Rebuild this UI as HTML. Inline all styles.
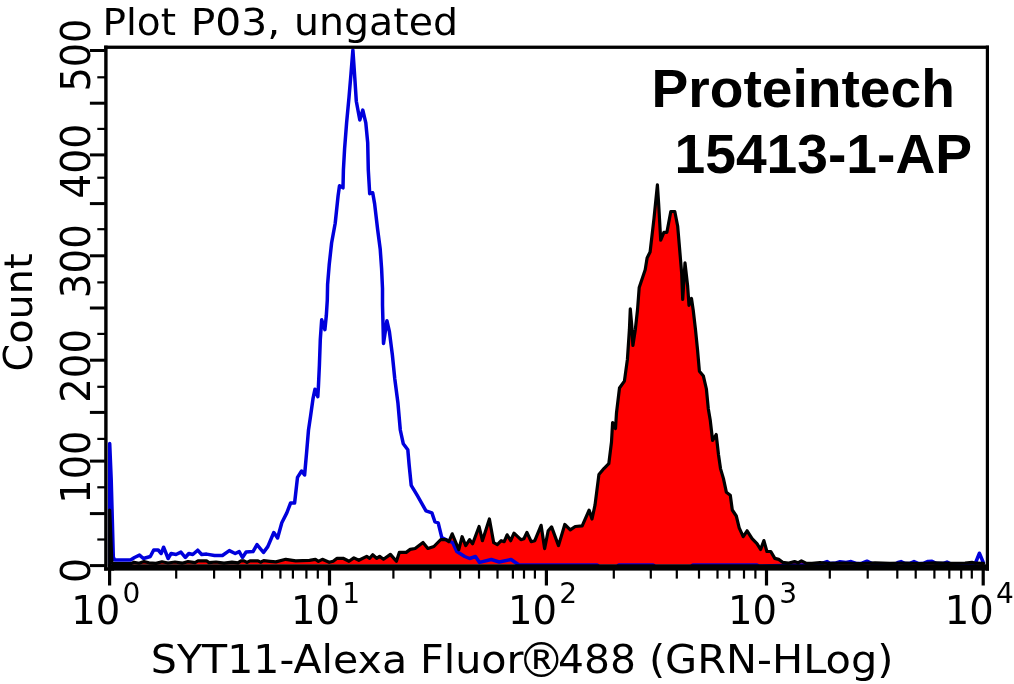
<!DOCTYPE html>
<html lang="en"><head><meta charset="utf-8"><title>Plot P03, ungated</title>
<style>html,body{margin:0;padding:0;background:#fff;overflow:hidden}svg{display:block}.v{font-family:"DejaVu Sans","Liberation Sans",sans-serif;fill:#000}.b{font-family:"Liberation Sans","DejaVu Sans",sans-serif;font-weight:bold;fill:#000}</style></head><body>
<svg width="1014" height="684" viewBox="0 0 1014 684">
<rect width="1014" height="684" fill="#fff"/>
<polygon points="109.7,566.0 109.7,510.0 111.9,562.5 113.0,563.6 131.0,563.6 134.0,562.2 139.0,563.2 144.0,561.6 149.0,562.8 156.0,563.4 162.0,561.8 168.0,563.0 175.0,562.0 182.0,563.2 188.0,561.6 195.0,562.6 198.0,560.8 206.5,560.8 209.0,562.6 216.0,562.0 224.0,563.2 232.0,562.2 238.0,562.8 241.0,560.8 244.0,560.8 247.0,562.4 250.0,560.8 258.0,560.8 260.5,562.2 263.7,560.6 270.0,561.3 275.9,561.9 285.8,559.3 295.7,560.9 309.5,560.3 315.4,559.3 318.4,561.3 322.3,559.3 329.2,562.3 333.2,561.3 337.1,558.3 343.1,558.3 349.0,561.3 353.9,557.9 358.8,560.3 366.7,556.4 369.7,558.3 372.7,554.8 376.6,558.3 379.6,556.4 383.5,559.3 390.4,554.4 396.4,561.3 399.3,552.4 406.2,552.4 410.2,549.4 415.1,548.5 423.0,542.5 427.9,548.5 433.9,546.5 440.8,539.5 445.9,539.7 448.9,541.7 452.2,533.8 458.8,549.6 462.1,536.7 465.7,545.6 469.6,539.7 472.6,543.7 479.1,526.5 482.4,540.7 489.4,519.0 493.7,542.7 497.3,544.6 501.2,540.7 504.2,541.7 507.1,534.8 510.7,540.7 514.0,533.2 520.9,539.7 523.9,538.7 526.9,532.4 531.2,541.7 534.8,540.7 541.1,525.3 544.6,548.6 548.2,530.8 551.6,526.9 558.5,545.6 564.8,524.5 570.3,529.8 575.2,526.5 582.2,525.9 589.1,510.1 592.0,519.0 595.0,505.2 598.9,474.6 603.9,468.6 608.8,463.7 611.5,442.0 612.6,422.5 615.5,428.5 616.5,412.7 619.5,388.0 624.4,381.1 627.4,359.4 629.4,329.7 630.3,308.9 631.7,324.8 632.9,345.5 635.3,329.7 637.5,310.0 639.2,287.5 645.2,269.8 647.1,257.9 650.1,252.0 654.0,218.4 657.4,184.9 658.7,204.6 660.7,240.2 663.9,232.3 666.9,232.3 670.8,211.5 674.8,211.5 677.7,226.3 679.7,250.0 681.7,273.7 682.7,299.4 685.0,262.9 687.6,285.6 689.0,305.3 691.5,298.4 693.2,310.0 695.5,329.7 697.5,349.5 699.4,371.2 703.4,376.1 706.4,389.0 708.3,408.7 710.3,420.6 712.6,440.5 716.2,434.5 718.5,454.7 720.5,468.6 723.4,478.4 726.4,492.3 730.3,495.2 732.3,510.0 736.3,516.0 739.2,527.8 743.2,536.7 747.1,530.8 752.1,538.7 757.0,543.6 760.6,549.5 763.9,540.6 766.9,551.5 770.8,551.5 774.8,558.4 778.7,559.4 782.7,562.3 788.0,563.2 794.5,561.6 798.0,562.8 801.4,560.8 806.0,563.2 812.0,563.4 820.0,562.6 828.0,563.4 845.0,563.0 860.0,563.5 875.0,562.8 890.0,563.4 905.0,563.0 920.0,563.5 935.0,562.9 950.0,563.4 965.0,563.0 972.0,562.4 976.0,563.2 983.5,563.4 983.5,564.5 109.7,564.5" fill="#ff0000"/>
<polyline points="109.7,566.0 109.7,443.5 111.2,479.5 112.3,519.0 113.3,557.0 114.5,560.0 130.5,560.0 134.5,557.5 139.5,555.1 143.4,558.5 150.3,556.5 153.7,550.0 158.2,550.0 161.2,553.5 163.6,547.2 168.1,558.5 171.1,553.5 176.0,554.5 180.9,552.1 185.3,557.5 188.8,553.5 192.8,554.5 197.7,550.2 201.7,554.5 206.6,554.1 214.5,555.5 222.4,555.5 229.3,550.6 235.2,553.5 239.2,551.6 242.5,557.5 246.1,552.0 253.0,551.6 257.0,544.6 263.5,552.5 267.8,546.6 273.8,532.5 277.6,538.0 281.8,522.8 286.8,512.9 290.6,503.0 294.6,503.0 297.5,477.4 301.6,471.0 304.6,475.0 306.5,453.7 308.5,430.0 310.5,416.5 313.0,398.7 315.0,389.2 317.8,396.7 318.4,386.9 319.4,365.2 320.3,339.5 321.7,319.7 324.9,329.6 326.3,315.8 327.3,300.0 327.6,284.5 329.2,264.8 331.6,243.0 335.2,223.3 338.1,195.7 339.5,185.8 343.0,187.8 343.4,170.0 344.6,148.6 346.6,122.9 349.0,97.3 351.0,73.6 352.9,50.0 354.9,79.5 356.3,101.2 359.8,120.0 362.8,110.1 365.8,122.9 367.7,142.7 368.3,170.0 369.7,193.7 372.7,192.7 374.6,203.6 377.6,229.2 380.2,249.0 381.6,268.7 382.5,288.5 382.5,305.0 382.9,319.7 383.5,343.4 386.9,320.7 389.4,331.6 392.4,355.3 394.8,379.0 397.9,402.7 400.3,430.0 403.3,443.8 407.8,449.7 409.2,465.5 411.2,485.3 417.1,495.2 426.0,510.9 431.9,512.9 434.9,521.8 438.2,522.8 441.8,537.6 448.7,541.0 452.8,542.7 456.8,551.6 464.7,556.5 469.6,558.5 475.5,556.5 479.5,562.4 491.3,559.5 499.2,562.0 511.1,559.5 519.0,565.0 597.0,565.0 599.0,566.5 617.0,566.5 619.0,565.0 653.0,565.0 655.0,566.5 691.0,566.5 693.0,565.0 757.0,565.0 759.0,566.0 800.0,565.0 820.0,565.0 824.0,562.6 827.0,561.6 830.0,563.5 836.0,563.0 840.0,561.8 846.0,562.4 851.0,561.6 856.0,563.5 862.0,563.2 867.0,561.2 872.0,563.5 894.0,565.0 898.0,562.4 901.0,561.6 905.0,563.6 910.0,563.4 914.0,561.6 918.0,563.4 924.0,563.2 928.0,561.4 932.0,561.2 936.0,563.4 943.0,563.6 947.0,562.0 951.0,564.0 972.0,565.0 975.5,563.0 979.4,553.2 983.5,563.0" fill="none" stroke="#0000dc" stroke-width="3.5" stroke-linejoin="round" stroke-linecap="round"/>
<polyline points="109.7,566.0 109.7,510.0 111.9,562.5 113.0,563.6 131.0,563.6 134.0,562.2 139.0,563.2 144.0,561.6 149.0,562.8 156.0,563.4 162.0,561.8 168.0,563.0 175.0,562.0 182.0,563.2 188.0,561.6 195.0,562.6 198.0,560.8 206.5,560.8 209.0,562.6 216.0,562.0 224.0,563.2 232.0,562.2 238.0,562.8 241.0,560.8 244.0,560.8 247.0,562.4 250.0,560.8 258.0,560.8 260.5,562.2 263.7,560.6 270.0,561.3 275.9,561.9 285.8,559.3 295.7,560.9 309.5,560.3 315.4,559.3 318.4,561.3 322.3,559.3 329.2,562.3 333.2,561.3 337.1,558.3 343.1,558.3 349.0,561.3 353.9,557.9 358.8,560.3 366.7,556.4 369.7,558.3 372.7,554.8 376.6,558.3 379.6,556.4 383.5,559.3 390.4,554.4 396.4,561.3 399.3,552.4 406.2,552.4 410.2,549.4 415.1,548.5 423.0,542.5 427.9,548.5 433.9,546.5 440.8,539.5 445.9,539.7 448.9,541.7 452.2,533.8 458.8,549.6 462.1,536.7 465.7,545.6 469.6,539.7 472.6,543.7 479.1,526.5 482.4,540.7 489.4,519.0 493.7,542.7 497.3,544.6 501.2,540.7 504.2,541.7 507.1,534.8 510.7,540.7 514.0,533.2 520.9,539.7 523.9,538.7 526.9,532.4 531.2,541.7 534.8,540.7 541.1,525.3 544.6,548.6 548.2,530.8 551.6,526.9 558.5,545.6 564.8,524.5 570.3,529.8 575.2,526.5 582.2,525.9 589.1,510.1 592.0,519.0 595.0,505.2 598.9,474.6 603.9,468.6 608.8,463.7 611.5,442.0 612.6,422.5 615.5,428.5 616.5,412.7 619.5,388.0 624.4,381.1 627.4,359.4 629.4,329.7 630.3,308.9 631.7,324.8 632.9,345.5 635.3,329.7 637.5,310.0 639.2,287.5 645.2,269.8 647.1,257.9 650.1,252.0 654.0,218.4 657.4,184.9 658.7,204.6 660.7,240.2 663.9,232.3 666.9,232.3 670.8,211.5 674.8,211.5 677.7,226.3 679.7,250.0 681.7,273.7 682.7,299.4 685.0,262.9 687.6,285.6 689.0,305.3 691.5,298.4 693.2,310.0 695.5,329.7 697.5,349.5 699.4,371.2 703.4,376.1 706.4,389.0 708.3,408.7 710.3,420.6 712.6,440.5 716.2,434.5 718.5,454.7 720.5,468.6 723.4,478.4 726.4,492.3 730.3,495.2 732.3,510.0 736.3,516.0 739.2,527.8 743.2,536.7 747.1,530.8 752.1,538.7 757.0,543.6 760.6,549.5 763.9,540.6 766.9,551.5 770.8,551.5 774.8,558.4 778.7,559.4 782.7,562.3 788.0,563.2 794.5,561.6 798.0,562.8 801.4,560.8 806.0,563.2 812.0,563.4 820.0,562.6 828.0,563.4 845.0,563.0 860.0,563.5 875.0,562.8 890.0,563.4 905.0,563.0 920.0,563.5 935.0,562.9 950.0,563.4 965.0,563.0 972.0,562.4 976.0,563.2 983.5,563.4" fill="none" stroke="#000" stroke-width="3.2" stroke-linejoin="round" stroke-linecap="round"/>
<rect x="104.1" y="45.6" width="884.9" height="3.3" fill="#000"/>
<rect x="985.8" y="45.6" width="3.2" height="525" fill="#000"/>
<rect x="104.2" y="45.6" width="3.4" height="525" fill="#000"/>
<rect x="108.1" y="564.3" width="880.9" height="6.3" fill="#000"/>
<rect x="104.1" y="567.3" width="10" height="3.3" fill="#000"/>
<rect x="89.9" y="49.0" width="15" height="3" fill="#000"/>
<rect x="89.9" y="101.7" width="15" height="3" fill="#000"/>
<rect x="89.9" y="153.4" width="15" height="3" fill="#000"/>
<rect x="89.9" y="202.1" width="15" height="3" fill="#000"/>
<rect x="89.9" y="254.3" width="15" height="3" fill="#000"/>
<rect x="89.9" y="306.5" width="15" height="3" fill="#000"/>
<rect x="89.9" y="358.7" width="15" height="3" fill="#000"/>
<rect x="89.9" y="410.9" width="15" height="3" fill="#000"/>
<rect x="89.9" y="459.6" width="15" height="3" fill="#000"/>
<rect x="89.9" y="512.1" width="15" height="3" fill="#000"/>
<rect x="89.9" y="564.1" width="15" height="3" fill="#000"/>
<rect x="97.3" y="76.2" width="8" height="2.2" fill="#000"/>
<rect x="97.3" y="127.8" width="8" height="2.2" fill="#000"/>
<rect x="97.3" y="176.6" width="8" height="2.2" fill="#000"/>
<rect x="97.3" y="228.1" width="8" height="2.2" fill="#000"/>
<rect x="97.3" y="281.3" width="8" height="2.2" fill="#000"/>
<rect x="97.3" y="332.8" width="8" height="2.2" fill="#000"/>
<rect x="97.3" y="385.7" width="8" height="2.2" fill="#000"/>
<rect x="97.3" y="437.8" width="8" height="2.2" fill="#000"/>
<rect x="97.3" y="486.2" width="8" height="2.2" fill="#000"/>
<rect x="97.3" y="538.4" width="8" height="2.2" fill="#000"/>
<rect x="108.0" y="570" width="3.2" height="15.5" fill="#000"/>
<rect x="327.9" y="570" width="3.2" height="15.5" fill="#000"/>
<rect x="544.8" y="570" width="3.2" height="15.5" fill="#000"/>
<rect x="764.9" y="570" width="3.2" height="15.5" fill="#000"/>
<rect x="981.6" y="570" width="3.2" height="15.5" fill="#000"/>
<rect x="175.1" y="570" width="2.2" height="8.6" fill="#000"/>
<rect x="213.0" y="570" width="2.2" height="8.6" fill="#000"/>
<rect x="239.0" y="570" width="2.2" height="8.6" fill="#000"/>
<rect x="261.0" y="570" width="2.2" height="8.6" fill="#000"/>
<rect x="279.3" y="570" width="2.2" height="8.6" fill="#000"/>
<rect x="291.8" y="570" width="2.2" height="8.6" fill="#000"/>
<rect x="305.3" y="570" width="2.2" height="8.6" fill="#000"/>
<rect x="316.7" y="570" width="2.2" height="8.6" fill="#000"/>
<rect x="392.3" y="570" width="2.2" height="8.6" fill="#000"/>
<rect x="429.4" y="570" width="2.2" height="8.6" fill="#000"/>
<rect x="459.0" y="570" width="2.2" height="8.6" fill="#000"/>
<rect x="477.9" y="570" width="2.2" height="8.6" fill="#000"/>
<rect x="496.4" y="570" width="2.2" height="8.6" fill="#000"/>
<rect x="511.8" y="570" width="2.2" height="8.6" fill="#000"/>
<rect x="522.9" y="570" width="2.2" height="8.6" fill="#000"/>
<rect x="533.8" y="570" width="2.2" height="8.6" fill="#000"/>
<rect x="612.7" y="570" width="2.2" height="8.6" fill="#000"/>
<rect x="649.7" y="570" width="2.2" height="8.6" fill="#000"/>
<rect x="675.7" y="570" width="2.2" height="8.6" fill="#000"/>
<rect x="697.9" y="570" width="2.2" height="8.6" fill="#000"/>
<rect x="716.4" y="570" width="2.2" height="8.6" fill="#000"/>
<rect x="728.2" y="570" width="2.2" height="8.6" fill="#000"/>
<rect x="742.9" y="570" width="2.2" height="8.6" fill="#000"/>
<rect x="754.3" y="570" width="2.2" height="8.6" fill="#000"/>
<rect x="828.7" y="570" width="2.2" height="8.6" fill="#000"/>
<rect x="866.6" y="570" width="2.2" height="8.6" fill="#000"/>
<rect x="896.2" y="570" width="2.2" height="8.6" fill="#000"/>
<rect x="914.6" y="570" width="2.2" height="8.6" fill="#000"/>
<rect x="933.3" y="570" width="2.2" height="8.6" fill="#000"/>
<rect x="948.2" y="570" width="2.2" height="8.6" fill="#000"/>
<rect x="960.1" y="570" width="2.2" height="8.6" fill="#000"/>
<rect x="970.7" y="570" width="2.2" height="8.6" fill="#000"/>
<text class="v" xml:space="preserve"><tspan x="102.50" y="35.30" font-size="38" textLength="73.50" lengthAdjust="spacingAndGlyphs">Plot</tspan> <tspan x="190.70" y="35.30" font-size="38" textLength="89.50" lengthAdjust="spacingAndGlyphs">P03,</tspan> <tspan x="294.00" y="35.30" font-size="38" textLength="164.00" lengthAdjust="spacingAndGlyphs">ungated</tspan></text>
<text class="v" transform="translate(31.70,371.50) rotate(-90)" font-size="39.5" textLength="118.00" lengthAdjust="spacingAndGlyphs">Count</text>
<text class="v" transform="translate(89.60,91.50) rotate(-90)" font-size="40" textLength="72.60" lengthAdjust="spacingAndGlyphs">500</text>
<text class="v" transform="translate(89.60,198.80) rotate(-90)" font-size="40" textLength="75.10" lengthAdjust="spacingAndGlyphs">400</text>
<text class="v" transform="translate(89.60,298.20) rotate(-90)" font-size="40" textLength="74.00" lengthAdjust="spacingAndGlyphs">300</text>
<text class="v" transform="translate(89.60,402.70) rotate(-90)" font-size="40" textLength="73.70" lengthAdjust="spacingAndGlyphs">200</text>
<text class="v" transform="translate(89.60,503.70) rotate(-90)" font-size="40" textLength="73.10" lengthAdjust="spacingAndGlyphs">100</text>
<text class="v" transform="translate(89.60,583.00) rotate(-90)" font-size="40" textLength="25.20" lengthAdjust="spacingAndGlyphs">0</text>
<text class="v"><tspan x="71.20" y="623.80" font-size="39" textLength="49.00" lengthAdjust="spacingAndGlyphs">10</tspan><tspan x="122.40" y="602.80" font-size="28">0</tspan></text>
<text class="v"><tspan x="291.10" y="623.80" font-size="39" textLength="49.00" lengthAdjust="spacingAndGlyphs">10</tspan><tspan x="342.30" y="602.80" font-size="28">1</tspan></text>
<text class="v"><tspan x="508.00" y="623.80" font-size="39" textLength="49.00" lengthAdjust="spacingAndGlyphs">10</tspan><tspan x="559.20" y="602.80" font-size="28">2</tspan></text>
<text class="v"><tspan x="728.10" y="623.80" font-size="39" textLength="49.00" lengthAdjust="spacingAndGlyphs">10</tspan><tspan x="779.30" y="602.80" font-size="28">3</tspan></text>
<text class="v"><tspan x="944.80" y="623.80" font-size="39" textLength="49.00" lengthAdjust="spacingAndGlyphs">10</tspan><tspan x="996.00" y="602.80" font-size="28">4</tspan></text>
<text class="v" xml:space="preserve"><tspan x="150.80" y="672.70" font-size="39.8" textLength="256.36" lengthAdjust="spacingAndGlyphs">SYT11-Alexa</tspan> <tspan x="419.90" y="672.70" font-size="39.8" textLength="103.73" lengthAdjust="spacingAndGlyphs">Fluor</tspan><tspan x="517.60" y="677.00" font-size="47.5">®</tspan><tspan x="558.00" y="672.70" font-size="39.8" textLength="78.00" lengthAdjust="spacingAndGlyphs">488</tspan> <tspan x="648.90" y="672.70" font-size="39.8" textLength="244.61" lengthAdjust="spacingAndGlyphs">(GRN-HLog)</tspan></text>
<text class="b" xml:space="preserve"><tspan x="651.50" y="106.70" font-size="54.5" textLength="303.40" lengthAdjust="spacingAndGlyphs">Proteintech</tspan> <tspan x="674.50" y="173.30" font-size="55" textLength="297.60" lengthAdjust="spacingAndGlyphs">15413-1-AP</tspan></text>
</svg></body></html>
